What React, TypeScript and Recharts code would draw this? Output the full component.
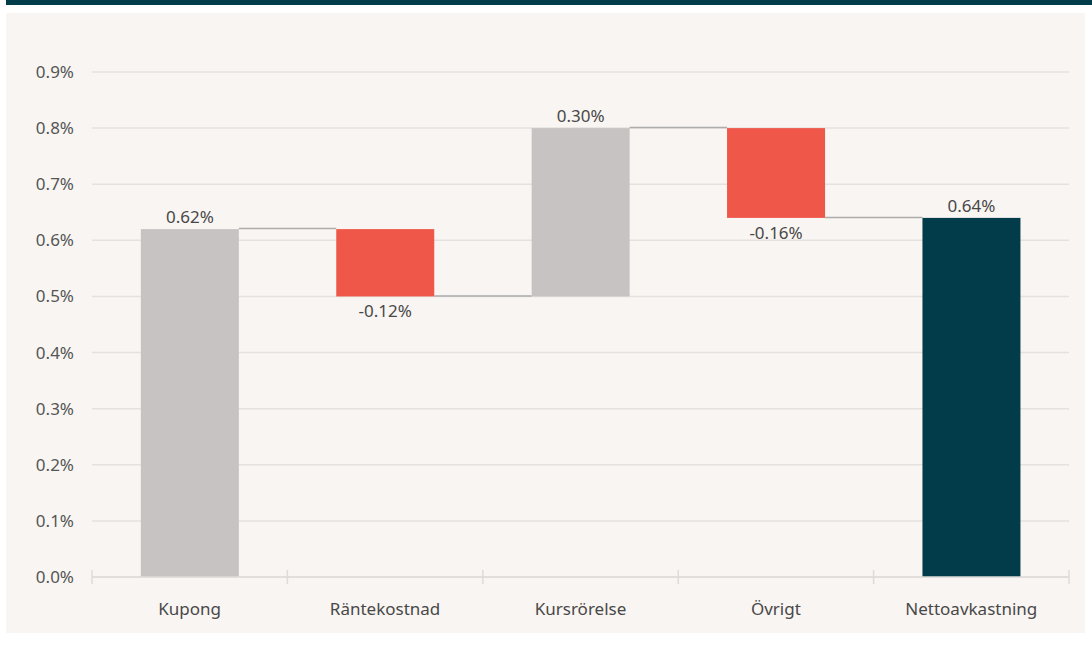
import { BarChart, Bar, XAxis, YAxis, CartesianGrid } from "recharts";

const categories = ["Kupong", "Räntekostnad", "Kursrörelse", "Övrigt", "Nettoavkastning"];
const changes = [0.62, -0.12, 0.3, -0.16, 0.64];
const totals = [false, false, false, false, true];
const yTicks = [0, 0.1, 0.2, 0.3, 0.4, 0.5, 0.6, 0.7, 0.8, 0.9];

const W = 1092;
const H = 650;
const MARGIN = { top: 72, right: 23, bottom: 33, left: 22 };
const Y_AXIS_W = 70;
const X_AXIS_H = 40;
const BAND = (W - MARGIN.left - MARGIN.right - Y_AXIS_W) / categories.length;

const FONT = "'Noto Sans', 'Open Sans', sans-serif";
const FS = 17;
const GREY = "#c6c3c2";
const RED = "#ef5749";
const DARK = "#023c4b";

let running = 0;
const rows = categories.map((name, i) => {
  const change = changes[i];
  if (totals[i]) {
    running = change;
    return { name, change, total: true, base: 0, size: change };
  }
  const start = running;
  running = start + change;
  return { name, change, total: false, base: Math.min(start, running), size: Math.abs(change) };
});

const fmt = (v: number) => `${v.toFixed(2)}%`;

function WaterfallBar(props: any) {
  const { x, y, width, height, index } = props;
  const row = rows[index];
  const fill = row.total ? DARK : row.change < 0 ? RED : GREY;
  const level = row.change < 0 && !row.total ? y + height : y;
  const labelY = row.change < 0 ? y + height + 21 : y - 6;
  return (
    <g>
      <rect x={x} y={y} width={width} height={height} fill={fill} />
      {index < rows.length - 1 && (
        <line x1={x + width} x2={x + BAND} y1={level - 0.5} y2={level - 0.5} stroke="#adadad" strokeWidth={1.5} />
      )}
      <text x={x + width / 2} y={labelY} textAnchor="middle" fontSize={FS} fill="#484848" fontFamily={FONT}>
        {fmt(row.change)}
      </text>
    </g>
  );
}

function CategoryTick(props: any) {
  const { x, y, payload, index } = props;
  return (
    <g>
      <line x1={x - BAND / 2} x2={x - BAND / 2} y1={y - 7} y2={y + 7} stroke="#dedbd9" strokeWidth={1.5} />
      {index === categories.length - 1 && (
        <line x1={x + BAND / 2} x2={x + BAND / 2} y1={y - 7} y2={y + 7} stroke="#dedbd9" strokeWidth={1.5} />
      )}
      <text x={x} y={y + 38} textAnchor="middle" fontSize={FS} fill="#484848" fontFamily={FONT}>
        {payload.value}
      </text>
    </g>
  );
}

export default function App() {
  return (
    <div style={{ position: "absolute", left: 0, top: 0, width: W, height: H, background: "#ffffff" }}>
      <div style={{ position: "absolute", left: 6, top: 0, width: W - 6, height: 5, background: DARK }} />
      <div style={{ position: "absolute", left: 6, top: 13, width: 1079, height: 620, background: "#f9f5f2" }} />
      <div style={{ position: "absolute", left: 0, top: 0 }}>
        <BarChart width={W} height={H} data={rows} margin={MARGIN} barCategoryGap="25%">
          <CartesianGrid vertical={false} stroke="#e4e1de" strokeWidth={1.5} />
          <XAxis
            dataKey="name"
            height={X_AXIS_H}
            axisLine={{ stroke: "#dedbd9", strokeWidth: 1.5 }}
            tickLine={false}
            tickSize={0}
            tickMargin={0}
            interval={0}
            tick={<CategoryTick />}
          />
          <YAxis
            width={Y_AXIS_W}
            domain={[0, 0.9]}
            ticks={yTicks}
            axisLine={false}
            tickLine={false}
            tickSize={0}
            tickMargin={18}
            tickFormatter={(v: number) => `${v.toFixed(1)}%`}
            tick={{ fontSize: FS, fill: "#555555", fontFamily: FONT }}
          />
          <Bar dataKey="base" stackId="w" fill="transparent" isAnimationActive={false} />
          <Bar dataKey="size" stackId="w" shape={<WaterfallBar />} isAnimationActive={false} />
        </BarChart>
      </div>
    </div>
  );
}
